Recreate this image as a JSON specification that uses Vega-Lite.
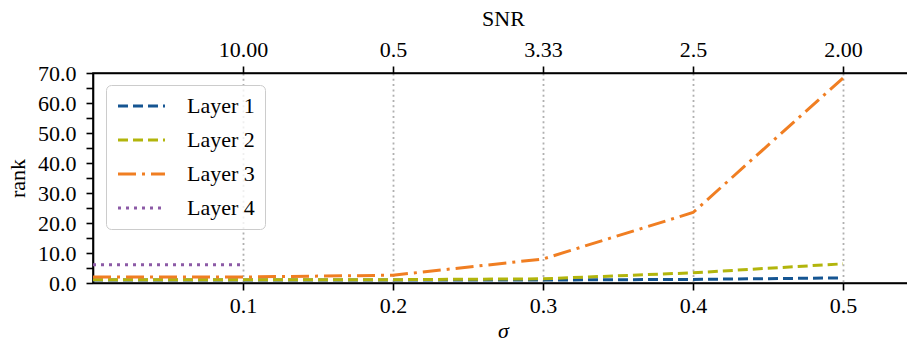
{
  "$schema": "https://vega.github.io/schema/vega-lite/v6.json",
  "width": 820,
  "height": 210,
  "autosize": "none",
  "padding": {"left": 93, "top": 73, "right": 0, "bottom": 60},
  "background": "white",
  "config": {
    "font": "Liberation Serif",
    "view": {"stroke": "black", "strokeWidth": 1.6},
    "axis": {
      "labelFont": "Liberation Serif",
      "titleFont": "Liberation Serif",
      "labelFontSize": 22,
      "titleFontSize": 22,
      "titleFontWeight": "normal",
      "labelColor": "black",
      "titleColor": "black",
      "domainColor": "black",
      "domainWidth": 1.6,
      "tickColor": "black",
      "tickWidth": 1.6,
      "tickSize": 7,
      "labelOverlap": false
    },
    "legend": {
      "title": null,
      "orient": "none",
      "legendX": 13,
      "legendY": 12,
      "symbolType": "M-1,0H4.22",
      "symbolSize": 324,
      "symbolStrokeWidth": 3,
      "labelFont": "Liberation Serif",
      "labelFontSize": 22,
      "labelColor": "black",
      "labelOffset": 49,
      "rowPadding": 12,
      "padding": 10,
      "fillColor": "rgba(255,255,255,0.8)",
      "strokeColor": "#cccccc",
      "cornerRadius": 5
    }
  },
  "data": {
    "values": [
      {"sigma": 0.0, "rank": 1.0, "layer": "Layer 1"},
      {"sigma": 0.1, "rank": 1.0, "layer": "Layer 1"},
      {"sigma": 0.2, "rank": 1.0, "layer": "Layer 1"},
      {"sigma": 0.3, "rank": 1.0, "layer": "Layer 1"},
      {"sigma": 0.4, "rank": 1.2, "layer": "Layer 1"},
      {"sigma": 0.5, "rank": 1.7, "layer": "Layer 1"},
      {"sigma": 0.0, "rank": 1.1, "layer": "Layer 2"},
      {"sigma": 0.1, "rank": 1.1, "layer": "Layer 2"},
      {"sigma": 0.2, "rank": 1.1, "layer": "Layer 2"},
      {"sigma": 0.3, "rank": 1.4, "layer": "Layer 2"},
      {"sigma": 0.4, "rank": 3.4, "layer": "Layer 2"},
      {"sigma": 0.5, "rank": 6.4, "layer": "Layer 2"},
      {"sigma": 0.0, "rank": 2.0, "layer": "Layer 3"},
      {"sigma": 0.1, "rank": 2.0, "layer": "Layer 3"},
      {"sigma": 0.2, "rank": 2.6, "layer": "Layer 3"},
      {"sigma": 0.3, "rank": 8.0, "layer": "Layer 3"},
      {"sigma": 0.4, "rank": 23.5, "layer": "Layer 3"},
      {"sigma": 0.5, "rank": 68.3, "layer": "Layer 3"},
      {"sigma": 0.0, "rank": 6.1, "layer": "Layer 4"},
      {"sigma": 0.1, "rank": 6.1, "layer": "Layer 4"}
    ]
  },
  "encoding": {
    "y": {
      "field": "rank",
      "type": "quantitative",
      "scale": {"domain": [0, 70], "nice": false},
      "axis": {
        "values": [0, 5, 10, 15, 20, 25, 30, 35, 40, 45, 50, 55, 60, 65, 70],
        "labelExpr": "datum.value % 10 === 0 ? format(datum.value, '.1f') : ''",
        "labelOverlap": false,
        "labelBound": false,
        "labelFlush": false,
        "title": "rank",
        "titleX": -76,
        "titleY": 105,
        "titleAngle": -90,
        "titleAlign": "center",
        "titleBaseline": "middle",
        "labelPadding": 10,
        "grid": false
      }
    }
  },
  "layer": [
    {
      "mark": {"type": "line", "strokeWidth": 3, "clip": true},
      "encoding": {
        "x": {
          "field": "sigma",
          "type": "quantitative",
          "scale": {"domain": [0, 0.54667], "nice": false, "zero": false},
          "axis": {
            "orient": "bottom",
            "values": [0.1, 0.2, 0.3, 0.4, 0.5],
            "format": ".1f",
            "title": "σ",
            "titleFontStyle": "italic",
            "titleX": 410,
            "titleY": 47,
            "titleAlign": "center",
            "titleBaseline": "middle",
            "labelPadding": 5,
            "labelOverlap": false,
            "grid": true,
            "gridColor": "#b0b0b0",
            "gridDash": [2, 3.3],
            "gridWidth": 1.8
          }
        },
        "color": {
          "field": "layer",
          "type": "nominal",
          "scale": {
            "domain": ["Layer 1", "Layer 2", "Layer 3", "Layer 4"],
            "range": ["#155592", "#b2b50c", "#f07e22", "#8c5aa6"]
          },
          "legend": {"title": null}
        },
        "strokeDash": {
          "field": "layer",
          "type": "nominal",
          "scale": {
            "domain": ["Layer 1", "Layer 2", "Layer 3", "Layer 4"],
            "range": [[10, 5], [10, 5], [18, 6, 3, 6], [3, 5]]
          },
          "legend": {"title": null}
        }
      }
    },
    {
      "mark": {"type": "line", "opacity": 0},
      "encoding": {
        "x": {
          "field": "sigma",
          "type": "quantitative",
          "axis": {
            "orient": "top",
            "values": [0.1, 0.2, 0.3, 0.4, 0.5],
            "labelExpr": "['10.00','0.5','3.33','2.5','2.00'][round(datum.value*10)-1]",
            "labelOverlap": false,
            "title": "SNR",
            "titleX": 410,
            "titleY": -55,
            "titleAlign": "center",
            "titleBaseline": "middle",
            "labelPadding": 5,
            "grid": false
          }
        },
        "detail": {"field": "layer"}
      }
    }
  ],
  "resolve": {"axis": {"x": "independent"}}
}
